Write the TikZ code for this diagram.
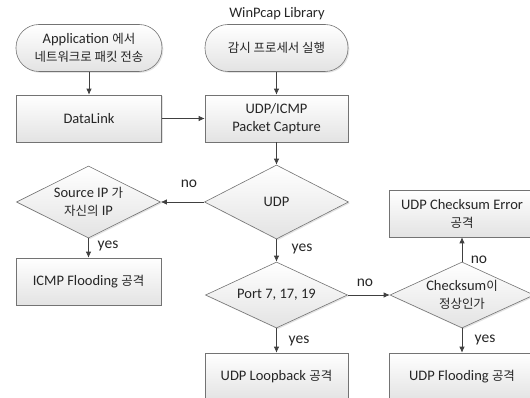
\documentclass[tikz,border=0pt]{standalone}
\usepackage{fontspec}
\setmainfont{Carlito}
\newfontfamily\kr{Noto Sans CJK KR}[Scale=0.86]
\usetikzlibrary{shapes.geometric,shadows,arrows.meta}
\begin{document}
\begin{tikzpicture}[x=1pt,y=-1pt,
  font=\fontsize{14.5}{18}\selectfont, text=black!85,
  base/.style={draw=black!55, line width=0.6pt, top color=white, bottom color=black!11,
    drop shadow={opacity=0.22,shadow xshift=1.3pt,shadow yshift=-1.3pt},
    align=center, inner sep=0pt},
  term/.style={base, rectangle, rounded corners=23pt, minimum width=146pt, minimum height=47pt},
  proc/.style={base, rectangle, minimum width=145pt, minimum height=47pt},
  dec/.style={base, diamond, shape aspect=2, inner sep=-9pt, minimum width=144pt, minimum height=72pt},
  arr/.style={draw=black!75, line width=0.7pt, -{Latex[length=6pt,width=5.5pt]}},
  lbl/.style={font=\fontsize{15.5}{18}\selectfont, inner sep=0pt}]
\useasboundingbox (0,0) rectangle (530,398);
\clip (0,0) rectangle (530,398);

\node (t1) [term] at (89,48) {Application {\kr 에서}\\{\kr 네트워크로 패킷 전송}};
\node (t2) [term, minimum width=143pt] at (276.5,48) {{\kr 감시 프로세서 실행}};
\node (lib) [inner sep=0pt] at (277,14) {WinPcap Library};

\node (dl) [proc] at (89,118.5) {DataLink};
\node (cap) [proc, minimum width=143pt] at (276.5,118.5) {UDP/ICMP\\Packet Capture};

\node (udp) [dec, minimum height=74pt] at (276.5,202) {UDP};
\node (src) [dec] at (88.5,202) {Source IP {\kr 가}\\{\kr 자신의} IP};
\node (icmp) [proc] at (88.5,281.5) {ICMP Flooding {\kr 공격}};

\node (port) [dec, minimum width=142pt, minimum height=66pt] at (276.5,295) {Port 7, 17, 19};
\node (loop) [proc, minimum width=143pt] at (276.5,376.5) {UDP Loopback {\kr 공격}};

\node (chk) [dec, minimum width=144pt, minimum height=66pt] at (462,295) {Checksum{\kr 이}\\{\kr 정상인가}};
\node (err) [proc, minimum width=146pt] at (462,213.5) {UDP Checksum Error\\{\kr 공격}};
\node (flood) [proc, minimum width=146pt] at (462,376.5) {UDP Flooding {\kr 공격}};

\draw[arr] (t1) -- (dl);
\draw[arr] (t2) -- (cap);
\draw[arr] (dl) -- (cap);
\draw[arr] (cap) -- (udp);
\draw[arr] (udp.west) -- (src.east);
\draw[arr] (src) -- (icmp);
\draw[arr] (udp) -- (port);
\draw[arr] (port) -- (loop);
\draw[arr] (port.east) -- (chk.west);
\draw[arr] (chk) -- (err);
\draw[arr] (chk) -- (flood);

\node (l1) [lbl] at (189,184) {no};
\node (l2) [lbl] at (108,246) {yes};
\node (l3) [lbl] at (302,249) {yes};
\node (l4) [lbl] at (365,283) {no};
\node (l5) [lbl] at (299,341) {yes};
\node (l6) [lbl] at (485,340) {yes};
\node (l7) [lbl] at (479,260) {no};
\end{tikzpicture}
\end{document}
